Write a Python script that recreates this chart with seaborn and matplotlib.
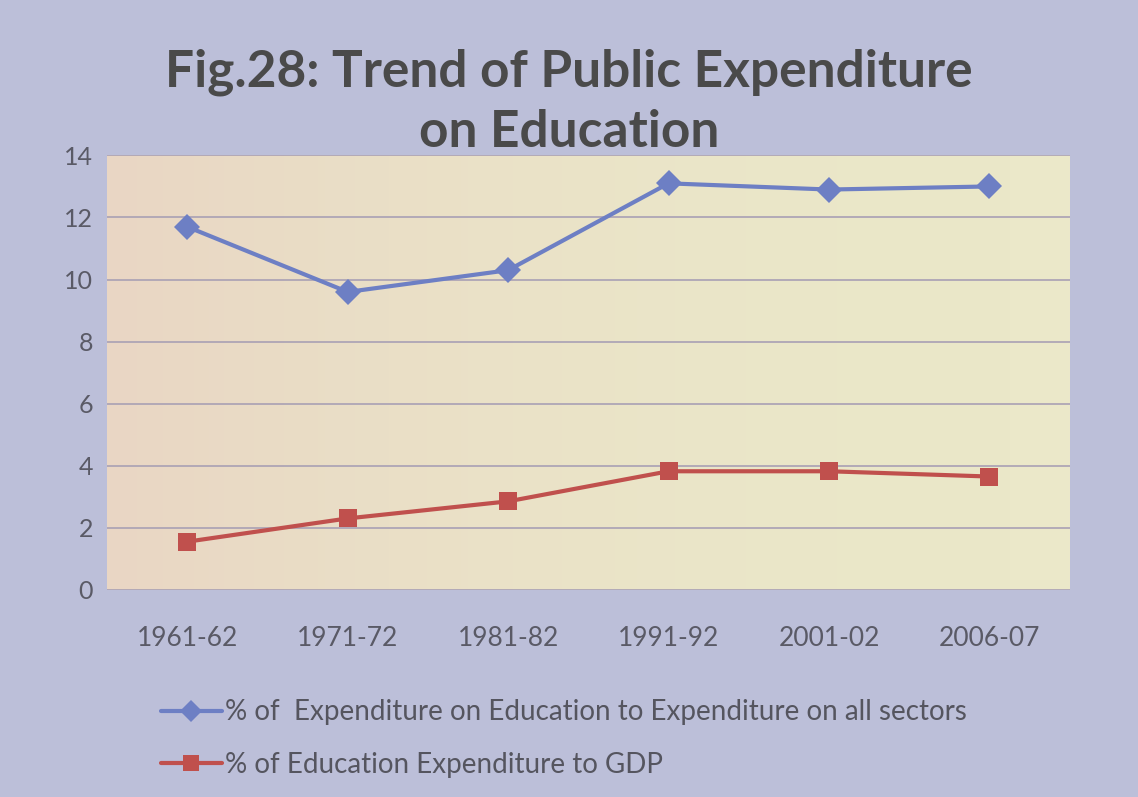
import pandas as pd
import numpy as np
import seaborn as sns
import matplotlib
matplotlib.use('Agg')
import matplotlib.pyplot as plt

years = ['1961-62', '1971-72', '1981-82', '1991-92', '2001-02', '2006-07']
exp_all_sectors = [11.7, 9.6, 10.3, 13.1, 12.9, 13.0]
exp_gdp = [1.55, 2.3, 2.85, 3.82, 3.82, 3.65]
label_all = '% of  Expenditure on Education to Expenditure on all sectors'
label_gdp = '% of Education Expenditure to GDP'

df = pd.DataFrame({'year': years * 2,
                   'value': exp_all_sectors + exp_gdp,
                   'series': [label_all] * 6 + [label_gdp] * 6})

sns.set_theme(style='white')
plt.rcParams['font.family'] = ['Lato', 'DejaVu Sans']

fig = plt.figure(figsize=(11.38, 7.97), dpi=100)
fig.patch.set_facecolor('#bcbfd9')
ax = fig.add_axes([0.094, 0.26, 0.846, 0.545])
ax.set_facecolor('#ebe8c9')

# faint pink tint at the left of the plot area
grad = np.linspace(1, 0, 256).reshape(1, -1) ** 2
ax.imshow(grad, extent=[-0.5, 5.5, 0, 14], aspect='auto',
          cmap=matplotlib.colors.LinearSegmentedColormap.from_list('g', ['#ebe8c9', '#e9d6c4']), zorder=0)

sns.lineplot(data=df, x='year', y='value', hue='series', style='series',
             palette=['#6d7fc4', '#c0504d'], markers=['D', 's'], dashes=False,
             markersize=13, linewidth=3, markeredgewidth=0, ax=ax, zorder=3)

ax.set_xlim(-0.5, 5.5)
ax.set_ylim(0, 14)
ax.set_yticks(range(0, 15, 2))
ax.yaxis.grid(True, color='#a9a0b4', linewidth=1.2)
ax.set_axisbelow(True)
for s in ax.spines.values():
    s.set_visible(False)
ax.set_xlabel('')
ax.set_ylabel('')
ax.tick_params(axis='y', labelsize=18, labelcolor='#5a5a66', length=0, pad=10)
ax.tick_params(axis='x', labelsize=19, labelcolor='#5a5a66', length=0, pad=26)

fig.text(0.5, 0.872, 'Fig.28: Trend of Public Expenditure\non Education', ha='center', va='center',
         fontsize=37, fontweight='bold', color='#4a4a4a', linespacing=1.35)

handles, labels = ax.get_legend_handles_labels()
ax.legend(handles, labels, loc='upper left', bbox_to_anchor=(0.03, -0.195), frameon=False,
          fontsize=20, labelcolor='#55555f', handlelength=2.2, handletextpad=0.1,
          labelspacing=0.95, markerscale=0.85)

fig.savefig('out.png', dpi=100, facecolor=fig.get_facecolor())
